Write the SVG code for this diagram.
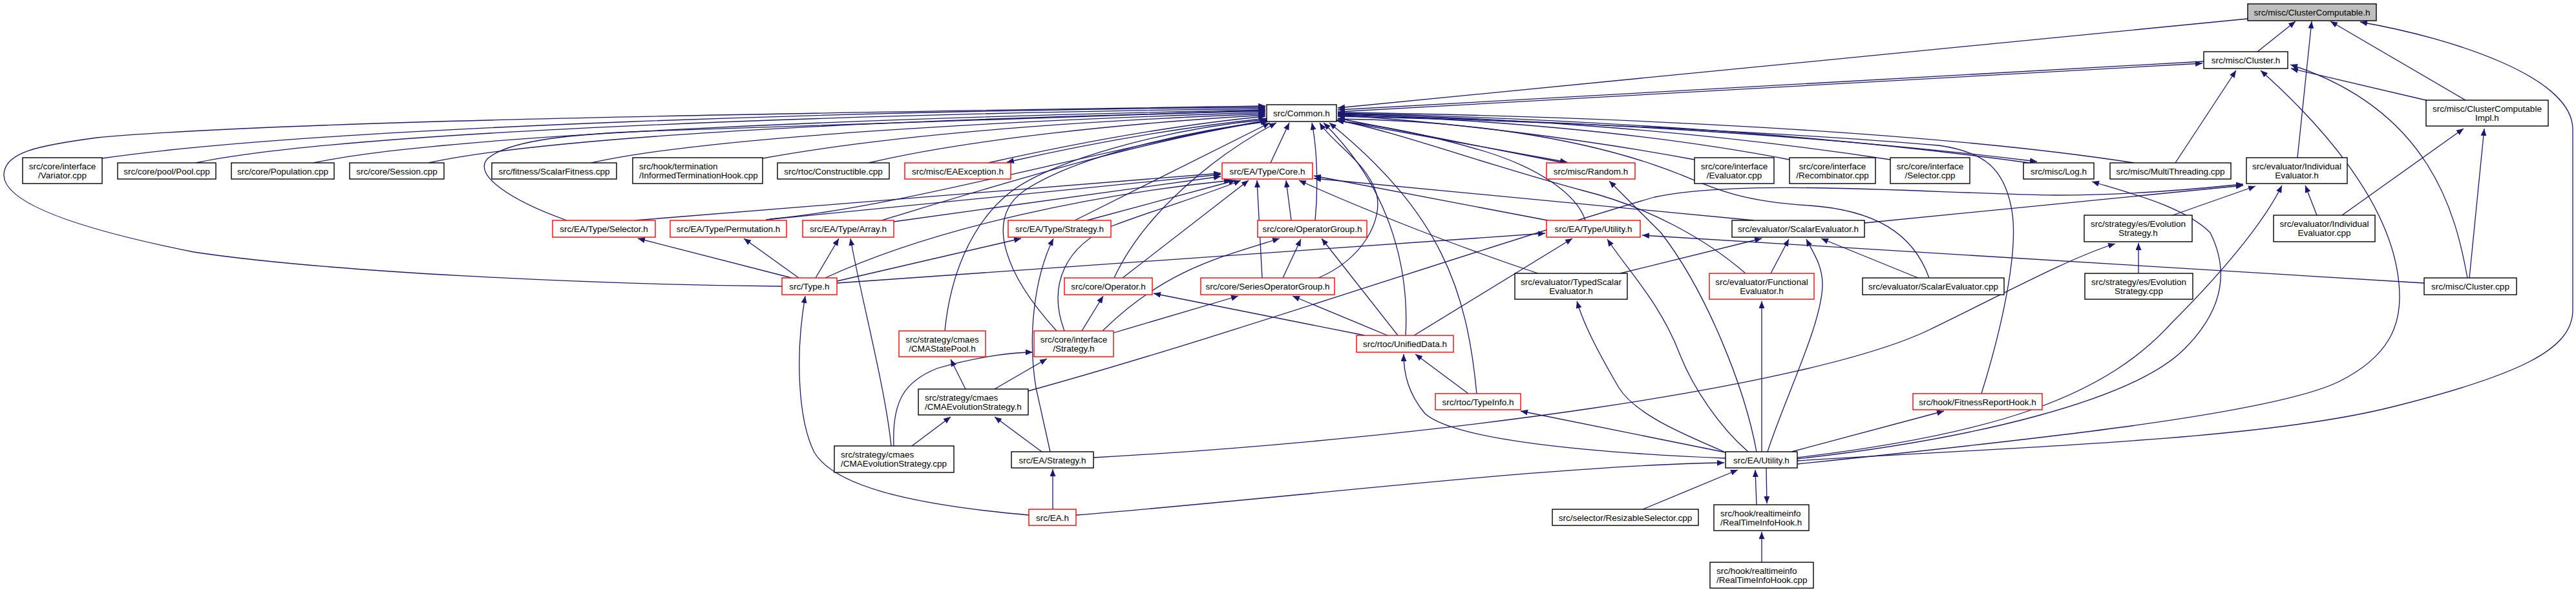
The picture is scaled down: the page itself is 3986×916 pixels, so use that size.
<svg xmlns="http://www.w3.org/2000/svg" width="3986" height="916" viewBox="0 0 3986 916">
<defs>
<marker id="a" markerWidth="12" markerHeight="10" refX="11" refY="4.5" orient="auto" markerUnits="userSpaceOnUse"><path d="M0,0 L11,4.5 L0,9 z" fill="#191970"/></marker>
<style>
.n rect{fill:#fff;stroke:#000;stroke-width:1.4}
.r rect{fill:#fff;stroke:#ff0000;stroke-width:1.4}
.g rect{fill:#bfbfbf;stroke:#000;stroke-width:1.4}
text{font-family:"Liberation Sans",Arial,sans-serif;font-size:13.5px;fill:#000;text-anchor:middle}
text.l{text-anchor:start}
#edges path{fill:none;stroke:#191970;stroke-width:1.3;marker-end:url(#a)}
</style>
</defs>
<rect width="3986" height="916" fill="#fff"/>
<g id="edges">
<path d="M3493,80 L3552,33"/>
<path d="M3555,244 L3577,33"/>
<path d="M3815,155 L3606,33"/>
<path d="M2781,713 C3150,690 3500,680 3700,630 C3900,580 3981,540 3981,480 L3981,200 C3981,120 3800,60 3652,34"/>
<path d="M3478,29 L2070,167"/>
<path d="M3410,95 L2070,170"/>
<path d="M2070,173 L3408,98"/>
<path d="M3758,156 L3545,106"/>
<path d="M3366,252 L3460,109"/>
<path d="M3818,430 C3800,330 3760,170 3544,100"/>
<path d="M2781,718 C3150,680 3520,640 3620,590 C3700,550 3713,500 3713,460 C3713,330 3600,200 3498,109"/>
<path d="M3624,333 L3812,199"/>
<path d="M3821,430 L3844,199"/>
<path d="M3585,333 L3567,287"/>
<path d="M2781,708 C3100,670 3260,610 3360,500 C3460,400 3510,330 3531,287"/>
<path d="M3751,438 L2541,364"/>
<path d="M3362,333 L3490,288"/>
<path d="M3309,423 L3309,376"/>
<path d="M1692,708 C2200,680 2800,600 2986,510 C3100,455 3200,400 3273,377"/>
<path d="M2781,710 C3050,680 3300,620 3380,540 C3440,480 3450,420 3420,360 C3380,320 3300,300 3237,281"/>
<path d="M2772,699 L3008,636"/>
<path d="M2885,345 L3471,287"/>
<path d="M1591,605 C1900,520 2300,380 2560,305 C2700,275 3000,300 3180,302 C3300,302 3400,292 3471,285"/>
<path d="M158,245 C500,195 1400,170 1958,166"/>
<path d="M303,252 C550,200 1400,175 1958,168"/>
<path d="M485,252 C700,205 1450,180 1958,170"/>
<path d="M663,252 C880,205 1500,182 1958,172"/>
<path d="M915,252 C1100,210 1600,185 1958,174"/>
<path d="M1180,245 C1400,205 1700,186 1958,176"/>
<path d="M1344,252 C1500,215 1750,190 1958,178"/>
<path d="M1529,252 C1650,225 1800,195 1958,180"/>
<path d="M1960,183 C1800,200 1650,230 1558,251"/>
<path d="M877,341 C790,310 730,270 755,245 C790,215 900,207 1000,203 C1400,190 1700,182 1958,171"/>
<path d="M1210,443 C900,440 500,420 300,390 C100,350 5,310 6,270 C8,235 60,225 150,213 C400,190 1000,178 1958,164"/>
<path d="M1462,512 C1470,430 1500,350 1560,300 C1620,250 1800,200 1960,185"/>
<path d="M1635,512 C1560,430 1520,340 1585,295 C1660,245 1820,205 1962,188"/>
<path d="M1364,341 C1500,300 1750,220 1962,187"/>
<path d="M1191,339 C1400,320 1700,230 1962,186"/>
<path d="M1663,341 L1965,190"/>
<path d="M1724,430 C1770,330 1880,240 1975,190"/>
<path d="M1966,252 L1995,190"/>
<path d="M2040,430 C2110,400 2140,340 2130,300 C2115,250 2060,220 2042,190"/>
<path d="M2035,341 C2040,290 2038,230 2030,190"/>
<path d="M2420,252 L2070,183"/>
<path d="M2068,186 L2425,251"/>
<path d="M2622,247 C2450,215 2250,190 2070,178"/>
<path d="M2769,247 C2550,205 2300,185 2070,177"/>
<path d="M2925,247 C2650,205 2350,182 2070,176"/>
<path d="M3140,252 C2800,205 2400,182 2070,175"/>
<path d="M2070,178 C2420,186 2830,210 3152,250"/>
<path d="M3302,252 C3000,205 2500,180 2070,174"/>
<path d="M3066,609 C3100,500 3125,380 3112,320 C3100,260 3070,235 3000,225 C2700,200 2300,185 2070,180"/>
<path d="M2985,430 C2960,360 2900,325 2800,318 C2700,312 2660,295 2600,270 C2450,210 2250,186 2070,184"/>
<path d="M2453,341 C2440,300 2380,260 2300,235 C2200,205 2120,192 2068,187"/>
<path d="M2175,519 C2180,430 2160,300 2048,190"/>
<path d="M2285,609 C2270,450 2230,330 2057,190"/>
<path d="M2701,423 C2640,370 2550,320 2450,295 C2300,255 2150,200 2068,186"/>
<path d="M982,341 L1889,268"/>
<path d="M1185,340 L1889,270"/>
<path d="M1383,343 L1889,273"/>
<path d="M1682,341 L1912,279"/>
<path d="M1277,430 C1450,350 1700,300 1905,279"/>
<path d="M1647,512 C1620,440 1650,380 1720,350 C1800,320 1870,300 1920,279"/>
<path d="M1737,430 L1932,279"/>
<path d="M1953,430 L1945,279"/>
<path d="M1998,341 L1990,279"/>
<path d="M2395,341 L2033,272"/>
<path d="M2714,341 L2033,276"/>
<path d="M2380,423 C2250,380 2100,320 2010,279"/>
<path d="M1225,430 L987,369"/>
<path d="M1236,430 L1151,369"/>
<path d="M1262,430 L1298,369"/>
<path d="M1379,690 C1370,600 1330,450 1316,369"/>
<path d="M1295,435 L1580,369"/>
<path d="M1295,438 L2391,361"/>
<path d="M1592,797 C1400,780 1290,750 1260,700 C1235,650 1230,550 1246,458"/>
<path d="M1625,699 L1603,600 C1590,520 1600,430 1630,369"/>
<path d="M1674,512 L1707,458"/>
<path d="M1706,512 C1800,420 1880,400 1980,369"/>
<path d="M1723,515 L1916,458"/>
<path d="M1383,690 C1380,620 1400,590 1450,570 C1500,555 1560,545 1598,545"/>
<path d="M1494,602 L1471,556"/>
<path d="M1539,602 L1620,555"/>
<path d="M1411,690 L1471,645"/>
<path d="M1612,699 L1539,645"/>
<path d="M1629,788 L1629,726"/>
<path d="M1665,797 C2000,770 2400,720 2668,716"/>
<path d="M2112,519 L1785,454"/>
<path d="M2147,519 L2000,458"/>
<path d="M1985,430 L2013,370"/>
<path d="M2163,519 L2045,369"/>
<path d="M2188,519 L2433,369"/>
<path d="M2272,609 L2190,548"/>
<path d="M2507,423 L2726,369"/>
<path d="M2740,423 L2768,370"/>
<path d="M2735,699 C2760,620 2820,500 2820,440 C2820,410 2805,390 2795,370"/>
<path d="M2968,430 L2818,369"/>
<path d="M2726,699 L2726,466"/>
<path d="M2668,699 C2600,670 2530,640 2505,600 C2470,540 2450,500 2440,466"/>
<path d="M2705,699 C2660,660 2620,600 2600,550 C2570,470 2520,420 2487,370"/>
<path d="M2718,699 C2700,600 2640,450 2570,360 C2530,320 2510,300 2490,280"/>
<path d="M2670,709 C2450,700 2250,680 2205,640 C2180,610 2172,580 2172,548"/>
<path d="M2670,700 L2353,636"/>
<path d="M2542,788 L2689,727"/>
<path d="M2718,781 L2716,727"/>
<path d="M2733,724 L2734,779"/>
<path d="M2726,870 L2726,823"/>
</g>
<g id="cc" class="g"><rect x="3478" y="6" width="199" height="26"/><text x="3577.5" y="24">src/misc/ClusterComputable.h</text></g>
<g id="cluster_h" class="n"><rect x="3410" y="80" width="130" height="26"/><text x="3475" y="98">src/misc/Cluster.h</text></g>
<g id="common" class="n"><rect x="1960" y="162" width="108" height="26"/><text x="2014" y="180">src/Common.h</text></g>
<g id="impl" class="n"><rect x="3754" y="155" width="189" height="40"/><text x="3848.5" y="173">src/misc/ClusterComputable</text><text x="3848.5" y="187">Impl.h</text></g>
<g id="variator" class="n"><rect x="35" y="244" width="123" height="40"/><text x="96.5" y="262">src/core/interface</text><text x="96.5" y="276">/Variator.cpp</text></g>
<g id="pool" class="n"><rect x="182" y="252" width="152" height="25"/><text x="258" y="269.5">src/core/pool/Pool.cpp</text></g>
<g id="population" class="n"><rect x="358" y="252" width="159" height="25"/><text x="437.5" y="269.5">src/core/Population.cpp</text></g>
<g id="session" class="n"><rect x="541" y="252" width="146" height="25"/><text x="614" y="269.5">src/core/Session.cpp</text></g>
<g id="scalarfitness" class="n"><rect x="761" y="252" width="193" height="25"/><text x="857.5" y="269.5">src/fitness/ScalarFitness.cpp</text></g>
<g id="informed" class="n"><rect x="979" y="244" width="201" height="40"/><text class="l" x="989" y="262">src/hook/termination</text><text class="l" x="989" y="276">/InformedTerminationHook.cpp</text></g>
<g id="constructible" class="n"><rect x="1203" y="252" width="173" height="25"/><text x="1289.5" y="269.5">src/rtoc/Constructible.cpp</text></g>
<g id="eaexception" class="r"><rect x="1400" y="252" width="164" height="25"/><text x="1482" y="269.5">src/misc/EAException.h</text></g>
<g id="core" class="r"><rect x="1891" y="252" width="140" height="25"/><text x="1961" y="269.5">src/EA/Type/Core.h</text></g>
<g id="random" class="r"><rect x="2393" y="252" width="137" height="25"/><text x="2461.5" y="269.5">src/misc/Random.h</text></g>
<g id="evaluator_cpp" class="n"><rect x="2622" y="244" width="123" height="40"/><text x="2683.5" y="262">src/core/interface</text><text x="2683.5" y="276">/Evaluator.cpp</text></g>
<g id="recombinator_cpp" class="n"><rect x="2769" y="244" width="133" height="40"/><text x="2835.5" y="262">src/core/interface</text><text x="2835.5" y="276">/Recombinator.cpp</text></g>
<g id="selector_cpp" class="n"><rect x="2925" y="244" width="123" height="40"/><text x="2986.5" y="262">src/core/interface</text><text x="2986.5" y="276">/Selector.cpp</text></g>
<g id="log" class="n"><rect x="3131" y="252" width="109" height="25"/><text x="3185.5" y="269.5">src/misc/Log.h</text></g>
<g id="multithreading" class="n"><rect x="3265" y="252" width="187" height="25"/><text x="3358.5" y="269.5">src/misc/MultiThreading.cpp</text></g>
<g id="indeval_h" class="n"><rect x="3476" y="244" width="156" height="40"/><text x="3554" y="262">src/evaluator/Individual</text><text x="3554" y="276">Evaluator.h</text></g>
<g id="type_selector" class="r"><rect x="855" y="341" width="159" height="26"/><text x="934.5" y="358.5">src/EA/Type/Selector.h</text></g>
<g id="permutation" class="r"><rect x="1037" y="341" width="180" height="26"/><text x="1127" y="358.5">src/EA/Type/Permutation.h</text></g>
<g id="array" class="r"><rect x="1242" y="341" width="141" height="26"/><text x="1312.5" y="358.5">src/EA/Type/Array.h</text></g>
<g id="type_strategy" class="r"><rect x="1560" y="341" width="159" height="26"/><text x="1639.5" y="358.5">src/EA/Type/Strategy.h</text></g>
<g id="operatorgroup" class="r"><rect x="1946" y="341" width="169" height="26"/><text x="2030.5" y="358.5">src/core/OperatorGroup.h</text></g>
<g id="type_utility" class="r"><rect x="2393" y="341" width="145" height="26"/><text x="2465.5" y="358.5">src/EA/Type/Utility.h</text></g>
<g id="scalareval_h" class="n"><rect x="2680" y="341" width="205" height="26"/><text x="2782.5" y="358.5">src/evaluator/ScalarEvaluator.h</text></g>
<g id="es_h" class="n"><rect x="3225" y="333" width="167" height="41"/><text x="3308.5" y="351">src/strategy/es/Evolution</text><text x="3308.5" y="365">Strategy.h</text></g>
<g id="indeval_cpp" class="n"><rect x="3518" y="333" width="157" height="41"/><text x="3596.5" y="351">src/evaluator/Individual</text><text x="3596.5" y="365">Evaluator.cpp</text></g>
<g id="type_h" class="r"><rect x="1210" y="430" width="85" height="26"/><text x="1252.5" y="447.5">src/Type.h</text></g>
<g id="operator" class="r"><rect x="1647" y="430" width="136" height="26"/><text x="1715" y="447.5">src/core/Operator.h</text></g>
<g id="seriesop" class="r"><rect x="1858" y="430" width="207" height="26"/><text x="1961.5" y="447.5">src/core/SeriesOperatorGroup.h</text></g>
<g id="typedscalar" class="n"><rect x="2344" y="423" width="174" height="40"/><text x="2431" y="441">src/evaluator/TypedScalar</text><text x="2431" y="455">Evaluator.h</text></g>
<g id="functional" class="r"><rect x="2645" y="423" width="162" height="40"/><text x="2726" y="441">src/evaluator/Functional</text><text x="2726" y="455">Evaluator.h</text></g>
<g id="scalareval_cpp" class="n"><rect x="2882" y="430" width="219" height="26"/><text x="2991.5" y="447.5">src/evaluator/ScalarEvaluator.cpp</text></g>
<g id="es_cpp" class="n"><rect x="3226" y="423" width="167" height="40"/><text x="3309.5" y="441">src/strategy/es/Evolution</text><text x="3309.5" y="455">Strategy.cpp</text></g>
<g id="cluster_cpp" class="n"><rect x="3751" y="430" width="143" height="26"/><text x="3822.5" y="447.5">src/misc/Cluster.cpp</text></g>
<g id="cmastatepool" class="r"><rect x="1391" y="512" width="134" height="40"/><text x="1458" y="530">src/strategy/cmaes</text><text x="1458" y="544">/CMAStatePool.h</text></g>
<g id="iface_strategy" class="r"><rect x="1600" y="512" width="123" height="40"/><text x="1661.5" y="530">src/core/interface</text><text x="1661.5" y="544">/Strategy.h</text></g>
<g id="unifieddata" class="r"><rect x="2099" y="519" width="150" height="26"/><text x="2174" y="536.5">src/rtoc/UnifiedData.h</text></g>
<g id="cmaes_h" class="n"><rect x="1421" y="602" width="170" height="40"/><text class="l" x="1431" y="620">src/strategy/cmaes</text><text class="l" x="1431" y="634">/CMAEvolutionStrategy.h</text></g>
<g id="typeinfo" class="r"><rect x="2221" y="609" width="132" height="25"/><text x="2287" y="626.5">src/rtoc/TypeInfo.h</text></g>
<g id="fitnessreport" class="r"><rect x="2960" y="609" width="200" height="25"/><text x="3060" y="626.5">src/hook/FitnessReportHook.h</text></g>
<g id="cmaes_cpp" class="n"><rect x="1291" y="690" width="185" height="41"/><text class="l" x="1301" y="708">src/strategy/cmaes</text><text class="l" x="1301" y="722">/CMAEvolutionStrategy.cpp</text></g>
<g id="ea_strategy" class="n"><rect x="1565" y="699" width="127" height="25"/><text x="1628.5" y="716.5">src/EA/Strategy.h</text></g>
<g id="ea_utility" class="n"><rect x="2670" y="699" width="111" height="25"/><text x="2725.5" y="716.5">src/EA/Utility.h</text></g>
<g id="ea_h" class="r"><rect x="1592" y="788" width="73" height="25"/><text x="1628.5" y="805.5">src/EA.h</text></g>
<g id="resizable" class="n"><rect x="2402" y="788" width="226" height="25"/><text x="2515" y="805.5">src/selector/ResizableSelector.cpp</text></g>
<g id="rtih_h" class="n"><rect x="2652" y="781" width="147" height="40"/><text class="l" x="2662" y="799">src/hook/realtimeinfo</text><text class="l" x="2662" y="813">/RealTimeInfoHook.h</text></g>
<g id="rtih_cpp" class="n"><rect x="2646" y="870" width="160" height="40"/><text class="l" x="2656" y="888">src/hook/realtimeinfo</text><text class="l" x="2656" y="902">/RealTimeInfoHook.cpp</text></g>
</svg>
